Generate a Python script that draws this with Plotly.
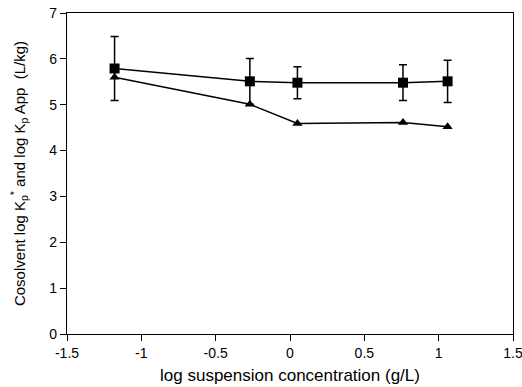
import plotly.graph_objects as go

x_vals = [-1.18, -0.27, 0.05, 0.76, 1.06]
kp_app = [5.79, 5.51, 5.48, 5.48, 5.51]
kp_err = [0.70, 0.50, 0.35, 0.39, 0.46]
kp_star = [5.60, 5.01, 4.59, 4.61, 4.52]

xtick_vals = [-1.5, -1, -0.5, 0, 0.5, 1, 1.5]
xtick_text = ["-1.5", "-1", "-0.5", "0", "0.5", "1", "1.5"]
ytick_vals = [0, 1, 2, 3, 4, 5, 6, 7]

fig = go.Figure()
fig.add_trace(go.Scatter(
    x=x_vals, y=kp_star, mode="lines+markers",
    line=dict(color="black", width=1.5),
    marker=dict(symbol="triangle-up", size=9, color="black"),
    showlegend=False))
fig.add_trace(go.Scatter(
    x=x_vals, y=kp_app, mode="lines+markers",
    line=dict(color="black", width=1.5),
    marker=dict(symbol="square", size=10, color="black"),
    error_y=dict(type="data", array=kp_err, visible=True, color="black", thickness=1.5, width=4),
    showlegend=False))

font = dict(family="Liberation Sans, Arial, sans-serif", size=14, color="black")
fig.update_layout(
    width=522, height=387,
    margin=dict(l=67, r=9, t=13, b=53),
    paper_bgcolor="white", plot_bgcolor="white",
    font=font,
    xaxis=dict(range=[-1.5, 1.5], tickvals=xtick_vals, ticktext=xtick_text, automargin=False,
               ticklabeloverflow="allow",
               showgrid=False, zeroline=False, showline=True, linecolor="black", linewidth=1.2,
               mirror=True, ticks="outside", ticklen=6, tickcolor="black",
               title=dict(text="log suspension concentration (g/L)", font=dict(size=17), standoff=9)),
    yaxis=dict(range=[0, 7], tickvals=ytick_vals, automargin=False,
               ticklabeloverflow="allow",
               showgrid=False, zeroline=False, showline=True, linecolor="black", linewidth=1.2,
               mirror=True, ticks="outside", ticklen=6, tickcolor="black",
               title=dict(text="Cosolvent log K<sub>p</sub><sup>*</sup> and log K<sub>p</sub> App  (L/kg)",
                          font=dict(size=15), standoff=20)),
)
fig.write_html("out.html")
